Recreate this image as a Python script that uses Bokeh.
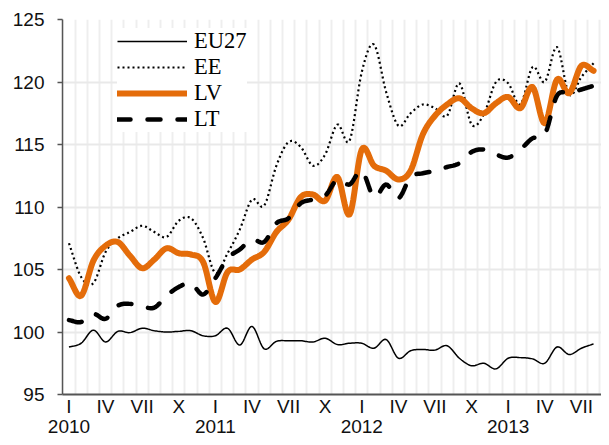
import numpy as np
from bokeh.plotting import figure
from bokeh.models import Range1d, FixedTicker, Legend, LegendItem, LinearAxis
from bokeh.embed import file_html
from bokeh.resources import INLINE

# ---- data (monthly, Jan 2010 .. Aug 2013) ----
roman = ["I", "II", "III", "IV", "V", "VI", "VII", "VIII", "IX", "X", "XI", "XII"]
years = ["2010", "2011", "2012", "2013"]
series_names = ["EU27", "EE", "LV", "LT"]

eu27 = [98.8, 99.1, 100.15, 99.2, 100.05, 99.95, 100.3, 100.1, 100.0, 100.05, 100.1, 99.7,
        99.7, 100.3, 98.95, 100.45, 98.65, 99.25, 99.3, 99.3, 99.2, 99.5, 99.0, 99.1,
        99.1, 98.7, 99.4, 97.9, 98.5, 98.6, 98.55, 98.9, 97.9, 97.3, 97.5, 97.05,
        97.9, 97.95, 97.85, 97.5, 98.8, 98.2, 98.7, 99.05]
ee = [107.1, 104.4, 103.9, 106.4, 107.5, 108.0, 108.5, 108.0, 107.6, 108.9, 109.1, 107.5,
      104.7, 106.3, 108.2, 110.6, 110.1, 113.3, 115.2, 114.8, 113.3, 114.2, 116.6, 115.3,
      120.8, 123.0, 119.2, 116.5, 117.5, 118.2, 117.9, 117.3, 119.9, 116.6, 117.4, 120.0,
      119.9, 118.2, 121.2, 120.0, 122.8, 119.0, 120.4, 121.5]
lv = [104.3, 102.9, 105.7, 106.9, 107.2, 106.1, 105.1, 105.8, 106.7, 106.3, 106.2, 105.6,
      102.4, 104.8, 105.0, 105.8, 106.4, 108.0, 109.0, 110.8, 111.0, 110.5, 112.4, 109.4,
      114.6, 113.3, 112.9, 112.2, 112.9, 115.8, 117.3, 118.2, 118.7, 117.9, 117.5, 118.3,
      118.8, 117.9, 119.6, 116.7, 120.2, 119.1, 121.3, 120.9]
lt = [100.95, 100.8, 101.45, 101.05, 102.1, 102.25, 102.05, 101.95, 102.9, 103.6, 103.9, 103.0,
      104.3, 105.9, 106.6, 107.4, 107.2, 108.7, 109.1, 110.3, 110.6, 110.9, 112.2, 111.8,
      112.9, 110.8, 111.8, 110.7, 112.4, 112.7, 112.9, 113.2, 113.5, 114.4, 114.6, 114.2,
      113.95, 114.6, 115.5, 115.8, 118.9, 119.1, 119.4, 119.7]

n_months = len(eu27)
month_idx = list(range(n_months))


def smooth(yv, steps=10):
    """Smoothed (Catmull-Rom) path through the data points, like a spreadsheet 'smoothed line'."""
    y = np.asarray(yv, dtype=float)
    n = len(y)
    m = np.empty(n)
    m[1:-1] = (y[2:] - y[:-2]) / 2.0
    m[0] = y[1] - y[0]
    m[-1] = y[-1] - y[-2]
    xs, ys = [], []
    t = np.linspace(0, 1, steps, endpoint=False)
    h00 = 2 * t**3 - 3 * t**2 + 1
    h10 = t**3 - 2 * t**2 + t
    h01 = -2 * t**3 + 3 * t**2
    h11 = t**3 - t**2
    for i in range(n - 1):
        xs.extend(month_idx[i] + t)
        ys.extend(h00 * y[i] + h10 * m[i] + h01 * y[i + 1] + h11 * m[i + 1])
    xs.append(month_idx[-1])
    ys.append(y[-1])
    return xs, ys


TICK_FONT = "19px"

p = figure(width=601, height=437, output_backend="svg", toolbar_location=None,
           x_range=Range1d(-0.53, 43.65), y_range=Range1d(95, 125),
           min_border_left=62, min_border_right=0, min_border_top=19, min_border_bottom=43)
p.outline_line_color = None
p.background_fill_color = "white"

# grid
yt = [95, 100, 105, 110, 115, 120, 125]
p.ygrid.ticker = FixedTicker(ticks=yt)
p.ygrid.grid_line_color = "#e9e9e9"
p.ygrid.grid_line_width = 2
p.xgrid.ticker = FixedTicker(ticks=[k + 0.5 for k in range(-1, n_months + 1)])
p.xgrid.grid_line_color = "#eeeeee"
p.xgrid.grid_line_width = 2

# y axis
p.yaxis.ticker = FixedTicker(ticks=yt)
p.yaxis.major_label_text_font = "Liberation Sans"
p.yaxis.major_label_text_font_size = TICK_FONT
p.yaxis.major_label_text_color = "#111111"
p.yaxis.axis_line_color = "#555555"
p.yaxis.axis_line_width = 1.5
p.yaxis.major_tick_line_color = "#555555"
p.yaxis.major_tick_line_width = 1.5
p.yaxis.major_tick_out = 5
p.yaxis.major_tick_in = 0
p.yaxis.minor_tick_line_color = None
p.yaxis.major_label_standoff = 13

# x axis: month labels
xt = [k for k in month_idx if k % 3 == 0]
p.xaxis.ticker = FixedTicker(ticks=xt)
p.xaxis.major_label_overrides = {k: roman[k % 12] for k in xt}
p.xaxis.major_label_text_font = "Liberation Sans"
p.xaxis.major_label_text_font_size = TICK_FONT
p.xaxis.major_label_text_color = "#111111"
p.xaxis.axis_line_color = "#555555"
p.xaxis.axis_line_width = 2
p.xaxis.major_tick_line_color = None
p.xaxis.major_tick_out = 0
p.xaxis.major_tick_in = 0
p.xaxis.minor_tick_line_color = None
p.xaxis.major_label_standoff = 1

# second axis below: year labels under the January ticks
yticks = [month_idx[12 * i] for i in range(len(years))]
year_axis = LinearAxis(ticker=FixedTicker(ticks=yticks),
                       major_label_overrides={k: years[i] for i, k in enumerate(yticks)},
                       major_label_text_font="Liberation Sans",
                       major_label_text_font_size=TICK_FONT,
                       major_label_text_color="#111111",
                       axis_line_color=None, major_tick_line_color=None,
                       minor_tick_line_color=None, major_tick_out=0, major_tick_in=0,
                       major_label_standoff=0)
p.add_layout(year_axis, "below")

# lines
x1, y1 = smooth(eu27)
r_eu = p.line(x1, y1, line_color="black", line_width=1.5)
x2, y2 = smooth(ee)
r_ee = p.line(x2, y2, line_color="black", line_width=2.2, line_dash="2 3")
x3, y3 = smooth(lv)
r_lv = p.line(x3, y3, line_color="#E46C0A", line_width=6, line_cap="round", line_join="round")
x4, y4 = smooth(lt)
r_lt = p.line(x4, y4, line_color="black", line_width=4.5, line_dash="13 17", line_cap="round")

legend = Legend(items=[LegendItem(label=series_names[0], renderers=[r_eu]),
                       LegendItem(label=series_names[1], renderers=[r_ee]),
                       LegendItem(label=series_names[2], renderers=[r_lv]),
                       LegendItem(label=series_names[3], renderers=[r_lt])],
                location=(55, 262), padding=3, spacing=-2, margin=0,
                glyph_width=70, glyph_height=20, label_height=20, label_standoff=7,
                label_text_font="Liberation Serif", label_text_font_size="22.5px",
                label_text_color="black",
                background_fill_color="white", background_fill_alpha=1.0,
                border_line_color=None)
p.add_layout(legend)

open("out.html", "w").write(file_html(p, INLINE))
